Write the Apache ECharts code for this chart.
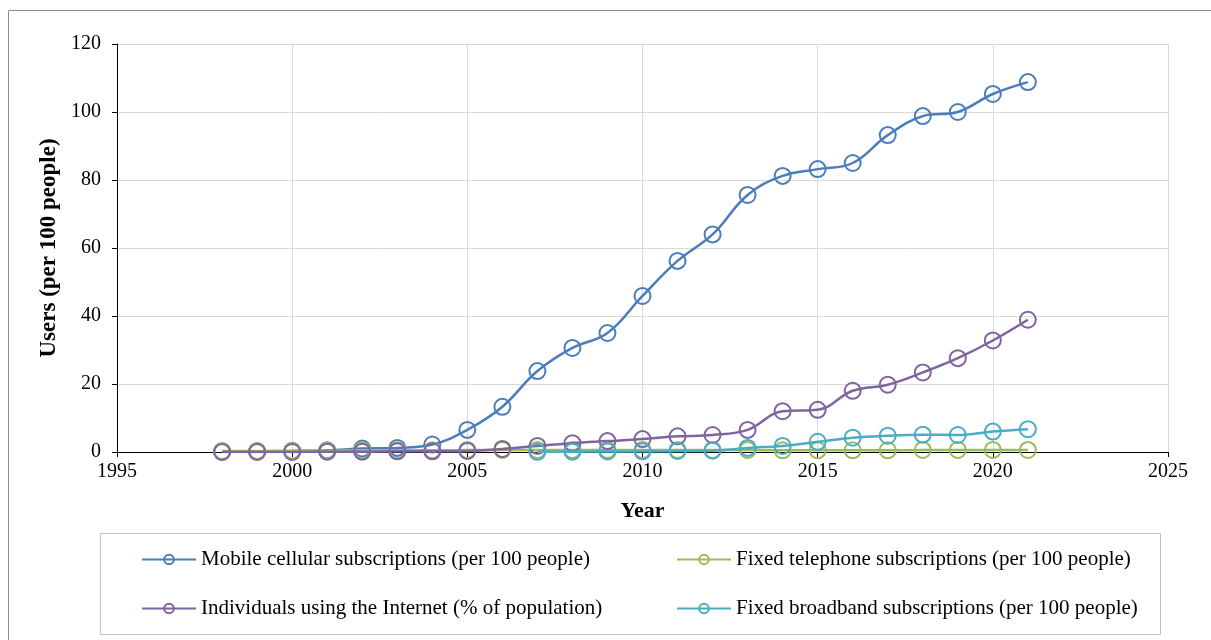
<!DOCTYPE html>
<html>
<head>
<meta charset="utf-8">
<script src="https://cdn.jsdelivr.net/npm/echarts@6/dist/echarts.min.js"></script>
<style>
html, body { margin: 0; padding: 0; background: #fff; }
#chart { width: 1211px; height: 640px; }
</style>
</head>
<body>
<div id="chart"></div>
<script>
// years and series
const years = [1998, 1999, 2000, 2001, 2002, 2003, 2004, 2005, 2006, 2007, 2008, 2009,
    2010, 2011, 2012, 2013, 2014, 2015, 2016, 2017, 2018, 2019, 2020, 2021];
const mobile = [0.1, 0.2, 0.3, 0.5, 1.0, 1.2, 2.2, 6.5, 13.3, 23.8, 30.6, 35.0,
    45.9, 56.2, 64.0, 75.6, 81.2, 83.2, 85.0, 93.2, 98.8, 100.0, 105.3, 108.8];
const telephone = [0.3, 0.3, 0.4, 0.4, 0.5, 0.5, 0.5, 0.6, 0.6, 0.6, 0.6, 0.6,
    0.6, 0.6, 0.6, 0.6, 0.5, 0.5, 0.5, 0.5, 0.6, 0.6, 0.6, 0.6];
const internet = [0.0, 0.0, 0.0, 0.1, 0.1, 0.2, 0.2, 0.3, 0.9, 1.8, 2.6, 3.2,
    3.8, 4.6, 5.0, 6.5, 12.0, 12.4, 18.0, 19.8, 23.4, 27.6, 32.8, 38.9];
const broadband = [null, null, null, null, null, null, null, null, null, 0.05, 0.1, 0.15,
    0.2, 0.3, 0.4, 1.2, 1.8, 3.0, 4.2, 4.8, 5.1, 5.0, 6.0, 6.7];

const seriesNames = [
    'Mobile cellular subscriptions (per 100 people)',
    'Fixed telephone subscriptions (per 100 people)',
    'Individuals using the Internet (% of population)',
    'Fixed broadband subscriptions (per 100 people)'
];
const colors = ['#4A7EBB', '#9BBB59', '#8064A2', '#4BACC6'];
const seriesData = [mobile, telephone, internet, broadband];

const font = 'Liberation Serif, Times New Roman, serif';

function pairs(values) {
    return years.map((y, i) => [y, values[i]]).filter(p => p[1] !== null);
}

var chart = echarts.init(document.getElementById('chart'));

var option = {
    animation: false,
    color: colors,
    graphic: [
        {
            type: 'rect',
            shape: { x: 8.5, y: 10.5, width: 1230, height: 660 },
            style: { fill: 'none', stroke: '#8c8c8c', lineWidth: 1 },
            silent: true
        },
        {
            type: 'rect',
            shape: { x: 100.5, y: 533.5, width: 1060, height: 101 },
            style: { fill: 'none', stroke: '#bfbfbf', lineWidth: 1 },
            silent: true
        }
    ],
    grid: {
        left: 117,
        right: 43,
        top: 44,
        bottom: 188
    },
    xAxis: {
        type: 'value',
        min: 1995,
        max: 2025,
        interval: 5,
        name: 'Year',
        nameLocation: 'middle',
        nameGap: 48,
        nameTextStyle: { fontFamily: font, fontSize: 22, fontWeight: 'bold', color: '#000' },
        axisLine: { lineStyle: { color: '#000', width: 1 } },
        axisTick: { show: true, length: 5, lineStyle: { color: '#000' } },
        axisLabel: { fontFamily: font, fontSize: 20, color: '#000', margin: 10, formatter: v => String(v) },
        splitLine: { show: true, lineStyle: { color: '#d9d9d9', width: 1 } }
    },
    yAxis: {
        type: 'value',
        min: 0,
        max: 120,
        interval: 20,
        name: 'Users (per 100 people)',
        nameLocation: 'middle',
        nameGap: 56,
        nameTextStyle: { fontFamily: font, fontSize: 23, fontWeight: 'bold', color: '#000' },
        axisLine: { show: true, lineStyle: { color: '#000', width: 1 } },
        axisTick: { show: true, length: 5, lineStyle: { color: '#000' } },
        axisLabel: { fontFamily: font, fontSize: 20, color: '#000', margin: 16 },
        splitLine: { show: true, lineStyle: { color: '#d9d9d9', width: 1 } }
    },
    legend: {
        left: 136,
        top: 541,
        width: 1080,
        orient: 'horizontal',
        itemWidth: 54,
        itemHeight: 12,
        itemGap: 22,
        data: seriesNames,
        textStyle: {
            fontFamily: font,
            fontSize: 21,
            color: '#000',
            width: 453,
            lineHeight: 27
        }
    },
    series: seriesNames.map((name, i) => ({
        name: name,
        type: 'line',
        data: pairs(seriesData[i]),
        smooth: 0.4,
        symbol: 'circle',
        symbolSize: 16,
        lineStyle: { width: 2.5, color: colors[i] },
        itemStyle: { color: 'rgba(255,255,255,0)', borderWidth: 2, borderColor: colors[i] },
        z: 2 + i
    }))
};

chart.setOption(option);
</script>
</body>
</html>
